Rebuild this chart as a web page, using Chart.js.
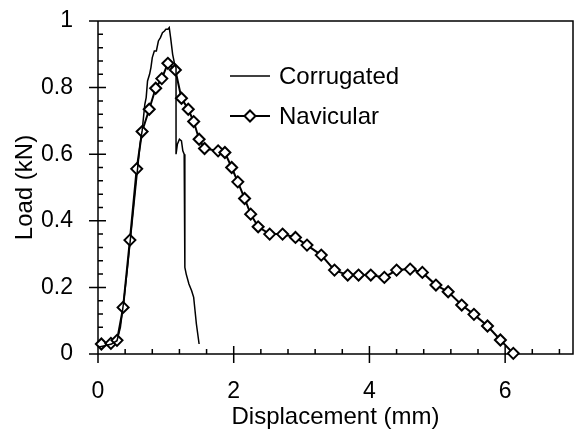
<!DOCTYPE html>
<html>
<head>
<meta charset="utf-8">
<script src="https://cdn.jsdelivr.net/npm/chart.js@4.4.1/dist/chart.umd.min.js"></script>
<style>
  html, body { margin: 0; padding: 0; background: #fff; }
  #wrap { width: 575px; height: 438px; }
</style>
</head>
<body>
<div id="wrap"><canvas id="loadChart" width="575" height="438"></canvas></div>
<script>
// Corrugated specimen (thin line, no markers)
const corrugatedX = [0, 0.1, 0.2, 0.28, 0.33, 0.38, 0.43, 0.48, 0.53, 0.58, 0.62, 0.65, 0.69, 0.71, 0.73, 0.76,
  0.78, 0.8, 0.83, 0.86, 0.89, 0.92, 0.95, 0.98, 1.0, 1.03, 1.05, 1.07, 1.1, 1.13, 1.15, 1.15, 1.17, 1.2, 1.23,
  1.25, 1.27, 1.28, 1.3, 1.34, 1.38, 1.41, 1.43, 1.45, 1.47, 1.49];
const corrugatedY = [0.02, 0.025, 0.03, 0.04, 0.08, 0.16, 0.25, 0.35, 0.45, 0.55, 0.63, 0.67, 0.75, 0.77, 0.82, 0.84,
  0.86, 0.89, 0.91, 0.91, 0.94, 0.95, 0.965, 0.97, 0.975, 0.975, 0.98, 0.95, 0.9, 0.87, 0.86, 0.6, 0.63, 0.645, 0.64,
  0.61, 0.6, 0.26, 0.24, 0.21, 0.19, 0.17, 0.13, 0.09, 0.06, 0.03];

// Navicular specimen (line with diamond markers)
const navicularX = [0.05, 0.19, 0.28, 0.37, 0.47, 0.57, 0.65, 0.755, 0.85, 0.94, 1.03, 1.14, 1.23, 1.33, 1.41, 1.49,
  1.57, 1.77, 1.87, 1.97, 2.06, 2.16, 2.25, 2.36, 2.53, 2.72, 2.91, 3.08, 3.29, 3.485, 3.68, 3.84, 4.02, 4.22, 4.4,
  4.6, 4.78, 4.98, 5.16, 5.36, 5.54, 5.74, 5.93, 6.12];
const navicularY = [0.03, 0.032, 0.041, 0.14, 0.342, 0.556, 0.668, 0.735, 0.798, 0.827, 0.873, 0.853, 0.768, 0.735,
  0.698, 0.645, 0.617, 0.61, 0.605, 0.56, 0.517, 0.467, 0.42, 0.382, 0.36, 0.36, 0.35, 0.327, 0.297, 0.252, 0.237,
  0.237, 0.237, 0.23, 0.252, 0.255, 0.245, 0.207, 0.187, 0.147, 0.119, 0.084, 0.042, 0.002];

const xTickLabels = [0, 2, 4, 6];
const yTickLabels = [0, 0.2, 0.4, 0.6, 0.8, 1];
const seriesNames = ['Corrugated', 'Navicular'];

const toPoints = (xs, ys) => xs.map((x, i) => ({ x: x, y: ys[i] }));
const FONT = 'Liberation Sans, Arial, sans-serif';

// no extra label padding, chart area is set by layout padding + fixed axis sizes
function noPad(s) {
  s.paddingTop = 0; s.paddingBottom = 0; s.paddingLeft = 0; s.paddingRight = 0;
}

// box frame + crossing major ticks + inward minor ticks
const axesPlugin = {
  id: 'axesBox',
  beforeDatasetsDraw(chart) {
    const c = chart.ctx;
    const a = chart.chartArea;
    const x = chart.scales.x, y = chart.scales.y;
    c.save();
    c.strokeStyle = '#000';
    c.lineWidth = 1.5;
    c.beginPath();
    c.moveTo(a.left, a.top);
    c.lineTo(a.right, a.top);
    c.lineTo(a.right, a.bottom);
    c.lineTo(a.left, a.bottom);
    c.closePath();
    for (let v = 0.4; v < 7; v += 0.4) {
      const px = x.getPixelForValue(v);
      c.moveTo(px, a.bottom);
      c.lineTo(px, a.bottom - 5);
    }
    xTickLabels.forEach(v => {
      const px = x.getPixelForValue(v);
      c.moveTo(px, a.bottom - 8);
      c.lineTo(px, a.bottom + 9);
    });
    for (let v = 0.04; v < 1; v += 0.04) {
      const py = y.getPixelForValue(v);
      c.moveTo(a.left, py);
      c.lineTo(a.left + 5, py);
    }
    yTickLabels.forEach(v => {
      const py = y.getPixelForValue(v);
      c.moveTo(a.left - 9, py);
      c.lineTo(a.left + 8, py);
    });
    c.stroke();
    c.restore();
  },
  afterDraw(chart) {
    const c = chart.ctx;
    c.save();
    c.strokeStyle = '#000';
    c.fillStyle = '#000';
    c.font = '24px ' + FONT;
    c.textBaseline = 'middle';
    const rows = [76, 116];
    seriesNames.forEach((name, i) => {
      const ly = rows[i];
      c.lineWidth = i === 0 ? 1.5 : 2;
      c.beginPath();
      c.moveTo(230, ly);
      c.lineTo(270, ly);
      c.stroke();
      if (i === 1) {
        c.beginPath();
        c.moveTo(250 - 5.5, ly);
        c.lineTo(250, ly - 5.5);
        c.lineTo(250 + 5.5, ly);
        c.lineTo(250, ly + 5.5);
        c.closePath();
        c.fillStyle = '#fff';
        c.fill();
        c.stroke();
        c.fillStyle = '#000';
      }
      c.fillText(name, 279, ly + 1);
    });
    c.restore();
  }
};

const ctx = document.getElementById('loadChart').getContext('2d');
new Chart(ctx, {
  type: 'scatter',
  data: {
    datasets: [
      {
        label: seriesNames[0],
        data: toPoints(corrugatedX, corrugatedY),
        showLine: true,
        borderColor: '#000',
        borderWidth: 1.5,
        pointRadius: 0,
        tension: 0,
        clip: false
      },
      {
        label: seriesNames[1],
        data: toPoints(navicularX, navicularY),
        showLine: true,
        borderColor: '#000',
        borderWidth: 2,
        pointStyle: 'rectRot',
        pointRadius: 5.5,
        pointBorderWidth: 2,
        pointBackgroundColor: '#fff',
        pointBorderColor: '#000',
        tension: 0,
        clip: false
      }
    ]
  },
  options: {
    responsive: false,
    animation: false,
    events: [],
    layout: { autoPadding: false, padding: { top: 21, right: 2, left: 0, bottom: 0 } },
    plugins: {
      legend: { display: false },
      tooltip: { enabled: false }
    },
    scales: {
      x: {
        type: 'linear',
        min: 0,
        max: 7,
        grid: { display: false },
        border: { display: false },
        afterBuildTicks: s => { s.ticks = xTickLabels.map(v => ({ value: v })); },
        afterFit: s => { s.height = 84; noPad(s); },
        ticks: { color: '#000', font: { family: FONT, size: 23 }, padding: 16, maxRotation: 0, callback: v => String(v) },
        title: { display: true, text: 'Displacement (mm)', color: '#000', font: { family: FONT, size: 24 }, padding: { top: 0, bottom: 6 } }
      },
      y: {
        type: 'linear',
        min: 0,
        max: 1,
        grid: { display: false },
        border: { display: false },
        afterBuildTicks: s => { s.ticks = yTickLabels.map(v => ({ value: v })); },
        afterFit: s => { s.width = 98; noPad(s); },
        ticks: { color: '#000', font: { family: FONT, size: 23 }, padding: 17, callback: v => String(v) },
        title: { display: true, text: 'Load (kN)', color: '#000', font: { family: FONT, size: 24 }, padding: { top: 11, bottom: 0 } }
      }
    }
  },
  plugins: [axesPlugin]
});
</script>
</body>
</html>
